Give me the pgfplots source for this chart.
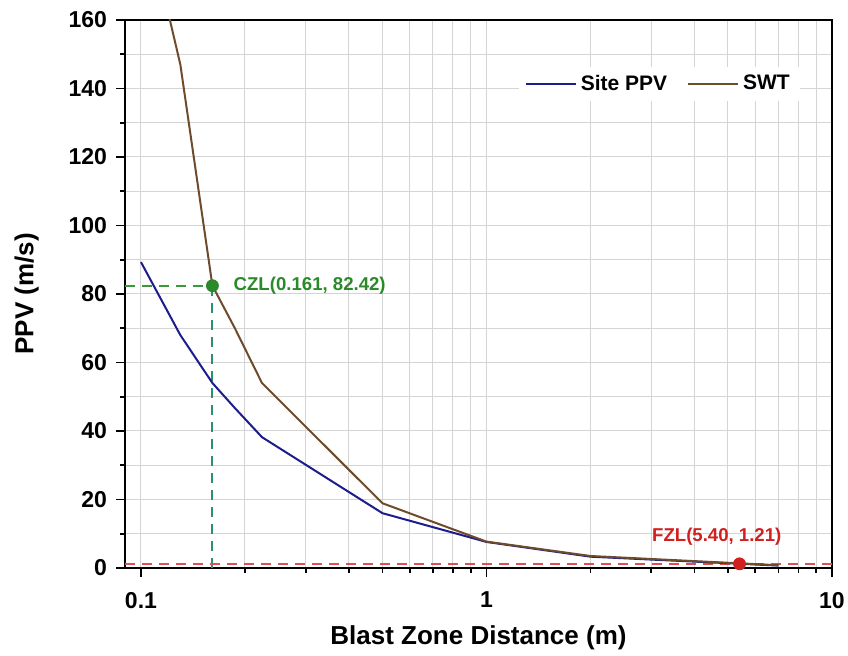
\documentclass[border=0pt]{standalone}
\usepackage{pgfplots}
\pgfplotsset{compat=1.18}
\usepackage{fontspec}
\setmainfont{Liberation Sans}
\definecolor{siteblue}{HTML}{1C1C8C}
\definecolor{swtbrown}{HTML}{6E4B2A}
\definecolor{czlgreen}{HTML}{2A8A2A}
\definecolor{czldash}{HTML}{3A9A3A}
\definecolor{czlteal}{HTML}{2A9070}
\definecolor{fzlred}{HTML}{D02020}
\definecolor{fzldash}{HTML}{E05050}
\definecolor{gridgray}{HTML}{D4D4D4}
\begin{document}
\begin{tikzpicture}
\useasboundingbox (-62.5pt,-44pt) rectangle (361.5pt,284pt);
\begin{axis}[
  scale only axis,
  width=353.5pt, height=274pt,
  xmode=log,
  xmin=0.0899, xmax=10,
  ymin=0, ymax=160,
  xtick={0.1,1,10},
  xticklabels={0.1,1,10},
  minor xtick={0.2,0.3,0.4,0.5,0.6,0.7,0.8,0.9,2,3,4,5,6,7,8,9},
  ytick={0,20,...,160},
  minor ytick={10,30,...,150},
  grid=both,
  major grid style={gridgray, line width=0.5pt},
  minor grid style={gridgray, line width=0.5pt},
  tick align=outside,
  tick pos=left,
  major tick length=4.5pt,
  minor tick length=2.5pt,
  every tick/.style={black, line width=0.9pt},
  axis line style={line width=1.1pt},
  /pgf/number format/assume math mode=true,
  tick label style={font=\fontsize{11.5}{13}\selectfont\bfseries},
  xticklabel style={yshift=-4pt},
  yticklabel style={xshift=-1pt},
  xlabel={Blast Zone Distance (m)},
  ylabel={PPV (m/s)},
  label style={font=\fontsize{13}{15}\selectfont\bfseries},
  xlabel style={yshift=-2pt},
  ylabel style={yshift=8pt},
  legend columns=2,
  legend style={at={(0.955,0.883)}, anchor=east, draw=none, fill=white,
    font=\fontsize{10.5}{12}\selectfont\bfseries,
    /tikz/every even column/.append style={column sep=8pt}},
  legend image code/.code={\draw[#1, line width=1pt] (0pt,0pt) -- (25pt,0pt);},
]
% reference dashed lines
\addplot[czldash, dash pattern=on 5pt off 3.5pt, line width=1pt, forget plot] coordinates {(0.0899,82.42) (0.161,82.42)};
\addplot[czlteal, dash pattern=on 5pt off 3.5pt, line width=1pt, forget plot] coordinates {(0.161,0) (0.161,82.42)};
\addplot[fzldash, dash pattern=on 5pt off 3.5pt, line width=1pt, forget plot] coordinates {(0.0899,1.21) (10,1.21)};
% series
\addplot[siteblue, line width=1pt, mark=none] coordinates {
(0.1,89.3) (0.13,68) (0.161,54) (0.187,46.7) (0.224,38.2) (0.5,16) (1,7.6) (2,3.3) (7,0.7)
};
\addlegendentry{Site PPV}
\addplot[swtbrown, line width=1pt, mark=none] coordinates {
(0.1,196) (0.13,147) (0.161,82.42) (0.187,70) (0.224,54) (0.5,18.9) (1,7.7) (2,3.5) (7,0.8)
};
\addlegendentry{SWT}
% markers
\addplot[only marks, mark=*, mark size=3pt, czlgreen, forget plot] coordinates {(0.161,82.42)};
\addplot[only marks, mark=*, mark size=3pt, fzlred, forget plot] coordinates {(5.40,1.21)};
\node[anchor=west, text=czlgreen, font=\fontsize{9.3}{11}\selectfont\bfseries] at (axis cs:0.177,82.42) {CZL(0.161, 82.42)};
\node[anchor=center, text=fzlred, font=\fontsize{9.3}{11}\selectfont\bfseries] at (axis cs:4.64,9) {FZL(5.40, 1.21)};
\end{axis}
\end{tikzpicture}
\end{document}
